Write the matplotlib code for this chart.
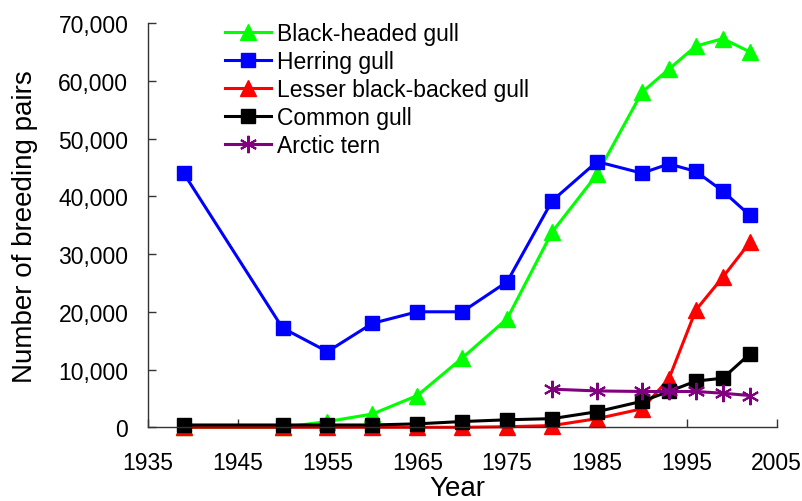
import matplotlib
matplotlib.use('Agg')
import matplotlib.pyplot as plt
from matplotlib.ticker import FuncFormatter

plt.rcParams['font.family'] = ['Liberation Sans', 'DejaVu Sans']

years = [1939, 1950, 1955, 1960, 1965, 1970, 1975, 1980, 1985, 1990, 1993, 1996, 1999, 2002]
black_headed = [0, 0, 1000, 2300, 5500, 12000, 18800, 33800, 43800, 58000, 62000, 66000, 67300, 65000]
herring = [44000, 17200, 13100, 18000, 20000, 20000, 25200, 39200, 46000, 44000, 45600, 44300, 40900, 36700]
lesser_bb = [0, 0, 0, 0, 0, 0, 100, 300, 1500, 3200, 8400, 20300, 26000, 32000]
common = [400, 400, 400, 400, 600, 1000, 1300, 1500, 2700, 4500, 6200, 8000, 8500, 12700]
tern_years = [1980, 1985, 1990, 1993, 1996, 1999, 2002]
arctic_tern = [6600, 6300, 6200, 6200, 6200, 5900, 5500]

fig = plt.figure(figsize=(8.02, 5.02), dpi=100)
ax = fig.add_axes([0.1842, 0.1468, 0.7843, 0.8054])

lw = 2.2
ax.plot(years, black_headed, color='#00FF00', marker='^', ms=11, lw=lw, label='Black-headed gull', clip_on=False)
ax.plot(years, herring, color='#0000FF', marker='s', ms=10.5, lw=lw, label='Herring gull', clip_on=False)
ax.plot(years, lesser_bb, color='#FF0000', marker='^', ms=11, lw=lw, label='Lesser black-backed gull', clip_on=False)
ax.plot(years, common, color='black', marker='s', ms=10.5, lw=lw, label='Common gull', clip_on=False)
ax.plot(tern_years, arctic_tern, color='#800080', marker=(6, 2, 0), ms=12.5, mew=1.5, lw=lw,
        label='Arctic tern', clip_on=False)

ax.set_xlim(1935, 2005)
ax.set_ylim(0, 70000)
ax.set_xticks(range(1935, 2006, 10))
ax.set_yticks(range(0, 70001, 10000))
ax.yaxis.set_major_formatter(FuncFormatter(lambda v, p: f'{int(v):,}'))

for s in ['top', 'right']:
    ax.spines[s].set_visible(False)
for s in ['left', 'bottom']:
    ax.spines[s].set_color('#333333')
    ax.spines[s].set_linewidth(1.0)

ax.tick_params(axis='both', direction='in', length=5.5, width=1, color='#333333', labelsize=16.5)
ax.tick_params(axis='x', pad=17)
ax.tick_params(axis='y', pad=14)

ax.set_xlabel('Year', fontsize=20)
ax.set_ylabel('Number of breeding pairs', fontsize=20)
ax.xaxis.set_label_coords(0.493, -0.118)
ax.yaxis.set_label_coords(-0.174, 0.5)

ax.legend(loc='upper left', bbox_to_anchor=(0.123, 1.002), frameon=False, fontsize=16.5,
          handlelength=2.0, handletextpad=0.25, labelspacing=0.22, borderpad=0, borderaxespad=0)

fig.savefig('out.png', dpi=100)
